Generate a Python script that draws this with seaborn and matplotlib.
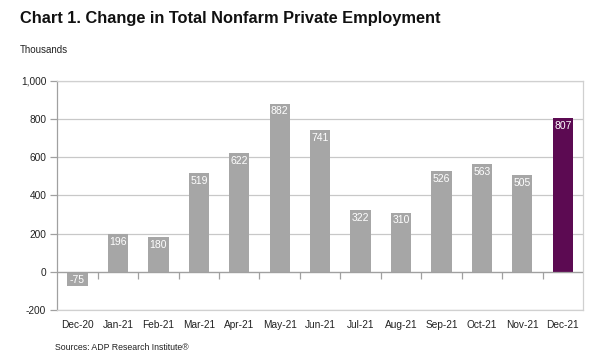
import numpy as np
import matplotlib
matplotlib.use("Agg")
import matplotlib.pyplot as plt
import seaborn as sns

months = ["Dec-20", "Jan-21", "Feb-21", "Mar-21", "Apr-21", "May-21", "Jun-21",
          "Jul-21", "Aug-21", "Sep-21", "Oct-21", "Nov-21", "Dec-21"]
change = [-75, 196, 180, 519, 622, 882, 741, 322, 310, 526, 563, 505, 807]
yticks = [-200, 0, 200, 400, 600, 800, 1000]

GRAY = "#A6A6A6"
PURPLE = "#5C0A52"
LINE = "#A0A0A0"

sns.set_style("white")
plt.rcParams["font.family"] = ["Liberation Sans", "DejaVu Sans"]

fig = plt.figure(figsize=(5.96, 3.55), dpi=100)
ax = fig.add_axes([57.3 / 596, 1 - 310 / 355, (583 - 57.3) / 596, (310 - 81) / 355])

colors = [GRAY] * (len(months) - 1) + [PURPLE]
sns.barplot(x=months, y=change, hue=months, palette=colors, legend=False,
            width=0.5, saturation=1, linewidth=0, ax=ax, zorder=3)

ax.set_ylim(yticks[0], yticks[-1])
ax.set_xlim(-0.5, len(months) - 0.5)
ax.set_yticks(yticks)
ax.set_yticklabels([f"{v:,}" for v in yticks])
ax.yaxis.grid(True, color="#C8C8C8", linewidth=0.9, zorder=0)
ax.set_axisbelow(True)

for side in ["top", "right", "bottom"]:
    ax.spines[side].set_color("#D0D0D0")
    ax.spines[side].set_linewidth(0.9)
ax.spines["left"].set_color(LINE)
ax.spines["left"].set_linewidth(0.9)
ax.tick_params(axis="y", length=5, width=0.9, color=LINE, labelsize=7.3,
               labelcolor="#222222", pad=3, left=True)
ax.tick_params(axis="x", length=0, labelsize=7.3, labelcolor="#222222", pad=7)

# zero line with tick marks between categories
ax.axhline(0, color=LINE, linewidth=0.9, zorder=4)
bounds = np.arange(len(months) + 1) - 0.5
ax.plot(bounds[1:-1], np.zeros(len(bounds) - 2), linestyle="none", marker=3,
        markersize=5, markeredgewidth=0.9, color=LINE, zorder=4)

# value labels inside bar ends
for i, v in enumerate(change):
    if v >= 0:
        ax.annotate(str(v), (i, v), xytext=(0, -2), textcoords="offset points",
                    ha="center", va="top", color="white", fontsize=7.5, zorder=5)
    else:
        ax.annotate(str(v), (i, v), xytext=(0, 1), textcoords="offset points",
                    ha="center", va="bottom", color="white", fontsize=7.5, zorder=5)

ax.set_xlabel("")
ax.set_ylabel("")

fig.text(20 / 596, 1 - 18 / 355, "Chart 1. Change in Total Nonfarm Private Employment",
         fontsize=11.8, fontweight="bold", va="center", ha="left", color="#111111")
fig.text(20 / 596, 1 - 50 / 355, "Thousands", fontsize=7, va="center", ha="left",
         color="#222222")
fig.text(55 / 596, 1 - 347 / 355, "Sources: ADP Research Institute®", fontsize=6.3,
         va="center", ha="left", color="#222222")

fig.savefig("out.png", dpi=100)
